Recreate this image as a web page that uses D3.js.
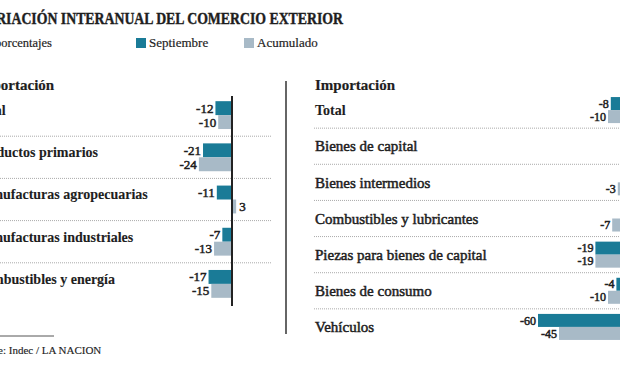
<!DOCTYPE html>
<html><head><meta charset="utf-8">
<script src="https://cdn.jsdelivr.net/npm/d3@7"></script>
<style>
html,body{margin:0;padding:0;background:#fff;}
svg{display:block;}
text{font-family:"Liberation Serif","DejaVu Serif",serif;fill:#1e1e1e;}
</style></head>
<body>
<script>
// ---------- data ----------
const seriesNames = ["Septiembre", "Acumulado"];
const expCategories = ["Total", "Productos primarios", "Manufacturas agropecuarias", "Manufacturas industriales", "Combustibles y energía"];
const expSeptiembre = [-12, -21, -11, -7, -17];
const expAcumulado  = [-10, -24, 3, -13, -15];
const impCategories = ["Total", "Bienes de capital", "Bienes intermedios", "Combustibles y lubricantes", "Piezas para bienes de capital", "Bienes de consumo", "Vehículos"];
const impSeptiembre = [-8, null, null, null, -19, -4, -60];
const impAcumulado  = [-10, null, -3, -7, -19, -10, -45];
const titleText = "VARIACIÓN INTERANUAL DEL COMERCIO EXTERIOR";
const subtitleText = "En porcentajes";
const sourceText = "Fuente: Indec / LA NACION";

const colors = {Septiembre: "#1a7b97", Acumulado: "#a8bac7"};
const W = 620, H = 375;
const svg = d3.select("body").append("svg").attr("width", W).attr("height", H);

// ---------- header ----------
svg.append("text").attr("x", -22).attr("y", 24)
  .attr("font-size", 16).attr("font-weight", "bold")
  .attr("stroke", "#1e1e1e").attr("stroke-width", 0.4)
  .attr("textLength", 365).attr("lengthAdjust", "spacingAndGlyphs")
  .text(titleText);
svg.append("text").attr("x", -22).attr("y", 47).attr("font-size", 12.5)
  .attr("stroke", "#1e1e1e").attr("stroke-width", 0.2).text(subtitleText);

const legend = svg.append("g");
[{n: seriesNames[0], x: 136}, {n: seriesNames[1], x: 244}].forEach(d => {
  legend.append("rect").attr("x", d.x).attr("y", 38).attr("width", 10).attr("height", 10).attr("fill", colors[d.n]);
  legend.append("text").attr("x", d.x + 13).attr("y", 47).attr("font-size", 13)
    .attr("stroke", "#1e1e1e").attr("stroke-width", 0.2).text(d.n);
});

// divider
svg.append("line").attr("x1", 286).attr("x2", 286).attr("y1", 81).attr("y2", 334)
  .attr("stroke", "#666").attr("stroke-width", 2);

// ---------- panel drawer ----------
function panel(opts) {
  const g = svg.append("g");
  const y = d3.scaleBand().domain(opts.cats).range(opts.yRange).paddingInner(opts.pad).paddingOuter(opts.pad / 2);
  const step = y.step();
  const x = d3.scaleLinear().domain([-60, 10]).range([opts.zero - 60 * opts.k, opts.zero + 10 * opts.k]);
  const ys = d3.scaleBand().domain(seriesNames).range([0, y.bandwidth()]);

  // header
  g.append("text").attr("x", opts.labelX).attr("y", 90).attr("font-size", 15).attr("font-weight", "bold")
    .attr("stroke", "#1e1e1e").attr("stroke-width", 0.2).text(opts.header);

  // separators
  opts.cats.slice(0, -1).forEach((c, i) => {
    const yy = opts.yRange[0] + step * (i + 1);
    g.append("line").attr("x1", opts.sepX[0]).attr("x2", opts.sepX[1]).attr("y1", yy).attr("y2", yy)
      .attr("stroke", "#aaa").attr("stroke-width", 1).attr("stroke-dasharray", "1,1");
  });

  // labels
  opts.cats.forEach((c, i) => {
    const cy = y(c) + y.bandwidth() / 2 + opts.labelDy;
    const bold = (i === 0 || opts.boldAll);
    g.append("text").attr("x", opts.labelX).attr("y", cy).attr("dy", "0.35em")
      .attr("font-size", bold ? 14 : 15)
      .attr("font-weight", bold ? "bold" : "normal")
      .attr("stroke", "#1e1e1e").attr("stroke-width", bold ? 0.1 : 0.5)
      .text(c);
  });

  // bars
  const rows = [];
  opts.cats.forEach((c, i) => {
    rows.push({c, s: seriesNames[0], v: opts.sept[i]});
    rows.push({c, s: seriesNames[1], v: opts.acum[i]});
  });
  const valid = rows.filter(d => d.v !== null);
  g.selectAll("rect.bar").data(valid).join("rect").attr("class", "bar")
    .attr("x", d => x(Math.min(0, d.v)))
    .attr("width", d => Math.abs(x(d.v) - x(0)))
    .attr("y", d => y(d.c) + ys(d.s))
    .attr("height", ys.bandwidth())
    .attr("fill", d => colors[d.s]);
  g.selectAll("text.val").data(valid).join("text").attr("class", "val")
    .attr("x", d => d.v < 0 ? x(d.v) - 2 : x(d.v) + 3)
    .attr("y", d => y(d.c) + ys(d.s) + ys.bandwidth() / 2)
    .attr("dy", "0.35em")
    .attr("text-anchor", d => d.v < 0 ? "end" : "start")
    .attr("font-size", opts.valSize).attr("stroke", "#1e1e1e").attr("stroke-width", 0.5)
    .text(d => String(d.v));

  // zero line
  g.append("line").attr("x1", x(0)).attr("x2", x(0))
    .attr("y1", opts.zeroY[0]).attr("y2", opts.zeroY[1])
    .attr("stroke", "#222").attr("stroke-width", 2);
}

panel({cats: expCategories, sept: expSeptiembre, acum: expAcumulado, header: "Exportación",
  yRange: [94, 305], pad: 0.34, zero: 232, k: 1.38, labelX: -25, labelDy: -5, boldAll: true,
  sepX: [0, 272], zeroY: [96, 306], valSize: 13});

panel({cats: impCategories, sept: impSeptiembre, acum: impAcumulado, header: "Importación",
  yRange: [92, 345], pad: 0.28, zero: 622, k: 1.4, labelX: 315, labelDy: 0, boldAll: false,
  sepX: [314, 640], zeroY: [95, 345], valSize: 12});

// source
svg.append("line").attr("x1", -30).attr("x2", 54).attr("y1", 336).attr("y2", 336).attr("stroke", "#555").attr("stroke-width", 1);
svg.append("text").attr("x", -27).attr("y", 354).attr("font-size", 11)
  .attr("stroke", "#1e1e1e").attr("stroke-width", 0.15).text(sourceText);
</script>
</body></html>
